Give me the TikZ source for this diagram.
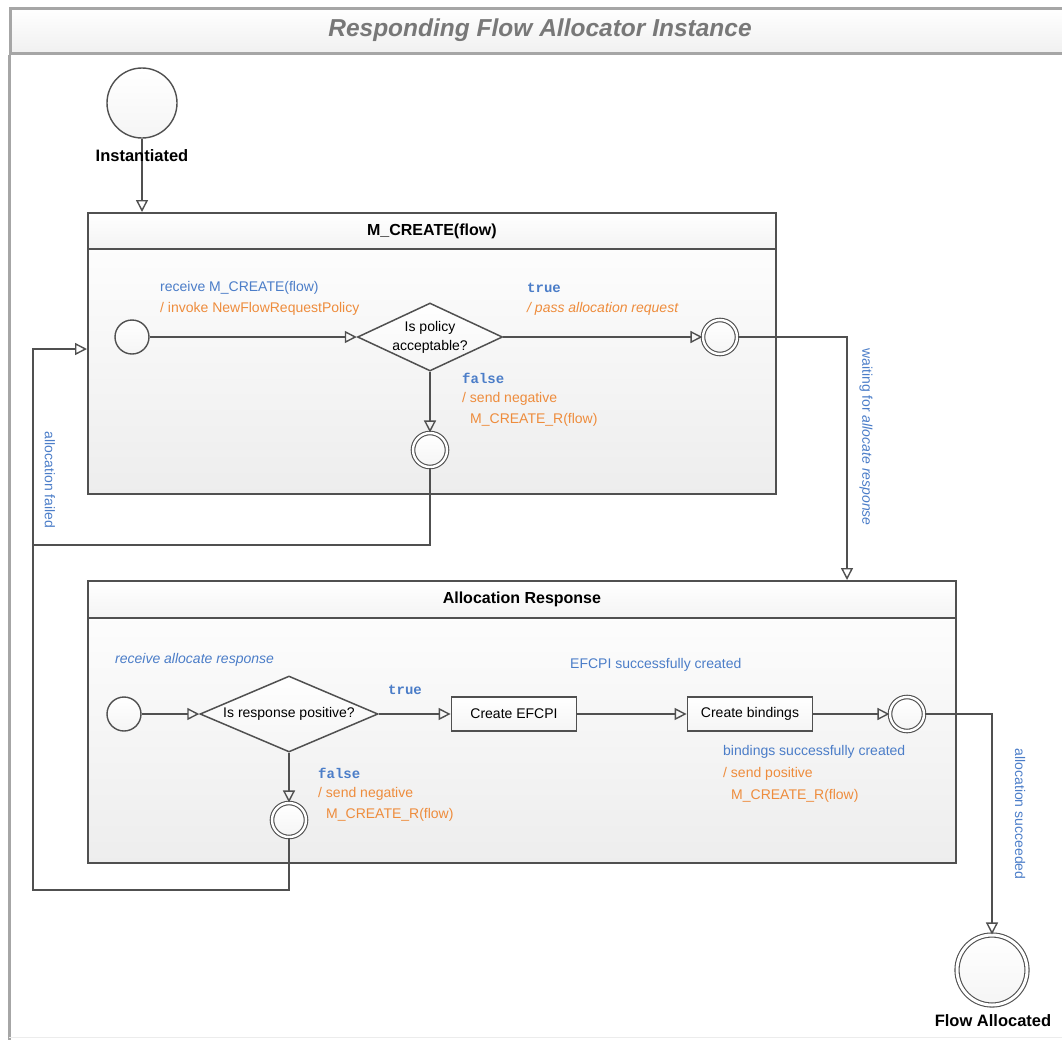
\documentclass[tikz,border=0pt]{standalone}
\usepackage{fontspec}
\setmainfont{Liberation Sans}
\setmonofont{Liberation Mono}
\usetikzlibrary{arrows.meta,shapes.geometric,calc}
\definecolor{lblue}{RGB}{75,125,200}
\definecolor{lorange}{RGB}{238,140,60}
\definecolor{edgec}{RGB}{80,80,80}
\definecolor{titlec}{RGB}{120,120,120}
\begin{document}
\begin{tikzpicture}[x=1pt,y=-1pt,
  every node/.style={font=\fontsize{14}{16}\selectfont},
  conn/.style={draw=edgec, line width=1.8pt, -{Triangle[open,length=12pt,width=12pt,line width=1.4pt]}},
  plain/.style={draw=edgec, line width=1.8pt},
  initst/.style={circle, draw=edgec, line width=1.4pt, top color=white, bottom color=gray!8, inner sep=0pt},
  finst/.style={circle, draw=edgec, line width=1.1pt, double=white, double distance=2.4pt, top color=white, bottom color=gray!8, inner sep=0pt},
  container/.style={draw=edgec, line width=1.8pt, top color=white, bottom color=gray!14, inner sep=0pt, anchor=north west},
  header/.style={draw=edgec, line width=1.8pt, top color=white, bottom color=gray!9, inner sep=0pt, anchor=north west, font=\fontsize{16}{18}\selectfont\bfseries},
  decision/.style={diamond, draw=edgec, line width=1.5pt, top color=white, bottom color=gray!8, inner sep=0pt},
  action/.style={rectangle, draw=edgec, line width=1.8pt, top color=white, bottom color=gray!8, minimum width=125pt, minimum height=34pt, inner sep=0pt},
  bl/.style={text=lblue, anchor=west, inner sep=0pt},
  og/.style={text=lorange, anchor=west, inner sep=0pt},
  mono/.style={text=lblue, anchor=west, inner sep=0pt, font=\fontsize{14}{16}\ttfamily\bfseries},
  rot/.style={text=lblue, rotate=-90, inner sep=0pt},
  stlabel/.style={font=\fontsize{16.5}{18}\selectfont\bfseries, inner sep=1pt}
]
\useasboundingbox (0,0) rectangle (1062,1039);
% outer frame
\node[draw=gray!70, line width=3pt, top color=white, bottom color=gray!12, minimum width=1080pt, minimum height=45pt, anchor=north west, inner sep=0pt] (frame) at (9,7) {};
\draw[gray!70, line width=3pt] (frame.south west) -- (9,1045);
\draw[gray!15, line width=1pt] (9,1037) -- (1070,1037);
\node[font=\fontsize{24.5}{27}\selectfont\bfseries\itshape, text=titlec] (title) at (540,30) {Responding Flow Allocator Instance};

% initial state
\node[initst, minimum size=70pt] (inst) at (142,103) {};

% M_CREATE container
\node[container, minimum width=688pt, minimum height=281pt] (mc) at (87,212) {};
\node[header, minimum width=688pt, minimum height=36pt] (mch) at (87,212) {M\_CREATE(flow)};
\node[initst, minimum size=34pt] (mcinit) at (132,337) {};
\node[decision, minimum width=145pt, minimum height=68pt, label={[align=center, font=\fontsize{14}{19}\selectfont]center:Is policy\\acceptable?}] (pol) at (430,337) {};
\node[finst, minimum size=34pt] (ptrue) at (720,337) {};
\node[finst, minimum size=34pt] (pfalse) at (430,450) {};

% Allocation Response container
\node[container, minimum width=868pt, minimum height=282pt] (ar) at (87,580) {};
\node[header, minimum width=868pt, minimum height=37pt] (arh) at (87,580) {Allocation Response};
\node[initst, minimum size=34pt] (arinit) at (124,714) {};
\node[decision, minimum width=178pt, minimum height=76pt, label={center:Is response positive?}] (resp) at (289,714) {};
\node[action] (efcpi) at (514,714) {Create EFCPI};
\node[action] (bind) at (750,714) {Create bindings};
\node[finst, minimum size=34pt] (rtrue) at (907,714) {};
\node[finst, minimum size=34pt] (rfalse) at (289,820) {};

% final state
\node[finst, minimum size=70pt, double distance=3pt] (fin) at (992,970) {};

% helper coordinates
\coordinate (fl) at (33,545);
\coordinate (fl2) at (33,890);
\coordinate (fin1) at (87,349);
\coordinate (arin) at (847,580);

% connectors
\draw[conn] (inst.south) -- (inst |- mc.north);
\draw[conn] (mcinit.east) -- (pol.west);
\draw[conn] (pol.east) -- (ptrue.west);
\draw[conn] (pol.south) -- (pfalse.north);
\draw[conn] (pfalse.south) |- (fl) |- (fin1);
\draw[plain] (rfalse.south) |- (fl2) -- (fl);
\draw[conn] (ptrue.east) -| (arin);
\draw[conn] (arinit.east) -- (resp.west);
\draw[conn] (resp.east) -- (efcpi.west);
\draw[conn] (efcpi.east) -- (bind.west);
\draw[conn] (bind.east) -- (rtrue.west);
\draw[conn] (resp.south) -- (rfalse.north);
\draw[conn] (rtrue.east) -| (fin.north);

% state labels
\node[stlabel] (instl) at (142,156) {Instantiated};
\node[stlabel] (finl) at (993,1021) {Flow Allocated};

% transition labels, M_CREATE
\node[bl] (l1) at (160,288) {receive M\_CREATE(flow)};
\node[og] (l2) at (160,309) {/ invoke NewFlowRequestPolicy};
\node[mono] (l3) at (527,288) {true};
\node[og, font=\fontsize{14}{16}\selectfont\itshape] (l4) at (527,309) {/ pass allocation request};
\node[mono] (l5) at (462,378) {false};
\node[og] (l6) at (462,399) {/ send negative};
\node[og] (l7) at (470,420) {M\_CREATE\_R(flow)};

% transition labels, Allocation Response
\node[bl, font=\fontsize{14}{16}\selectfont\itshape] (l8) at (115,660) {receive allocate response};
\node[mono] (l9) at (388,690) {true};
\node[bl] (l10) at (570,665) {EFCPI successfully created};
\node[mono] (l11) at (318,773) {false};
\node[og] (l12) at (318,794) {/ send negative};
\node[og] (l13) at (326,815) {M\_CREATE\_R(flow)};
\node[bl] (l14) at (723,752) {bindings successfully created};
\node[og] (l15) at (723,774) {/ send positive};
\node[og] (l16) at (731,796) {M\_CREATE\_R(flow)};

% rotated labels
\node[rot] (l17) at (50,480) {allocation failed};
\node[rot] (l18) at (866,437) {waiting for \textit{allocate response}};
\node[rot] (l19) at (1020,814) {allocation succeeded};
\end{tikzpicture}
\end{document}
